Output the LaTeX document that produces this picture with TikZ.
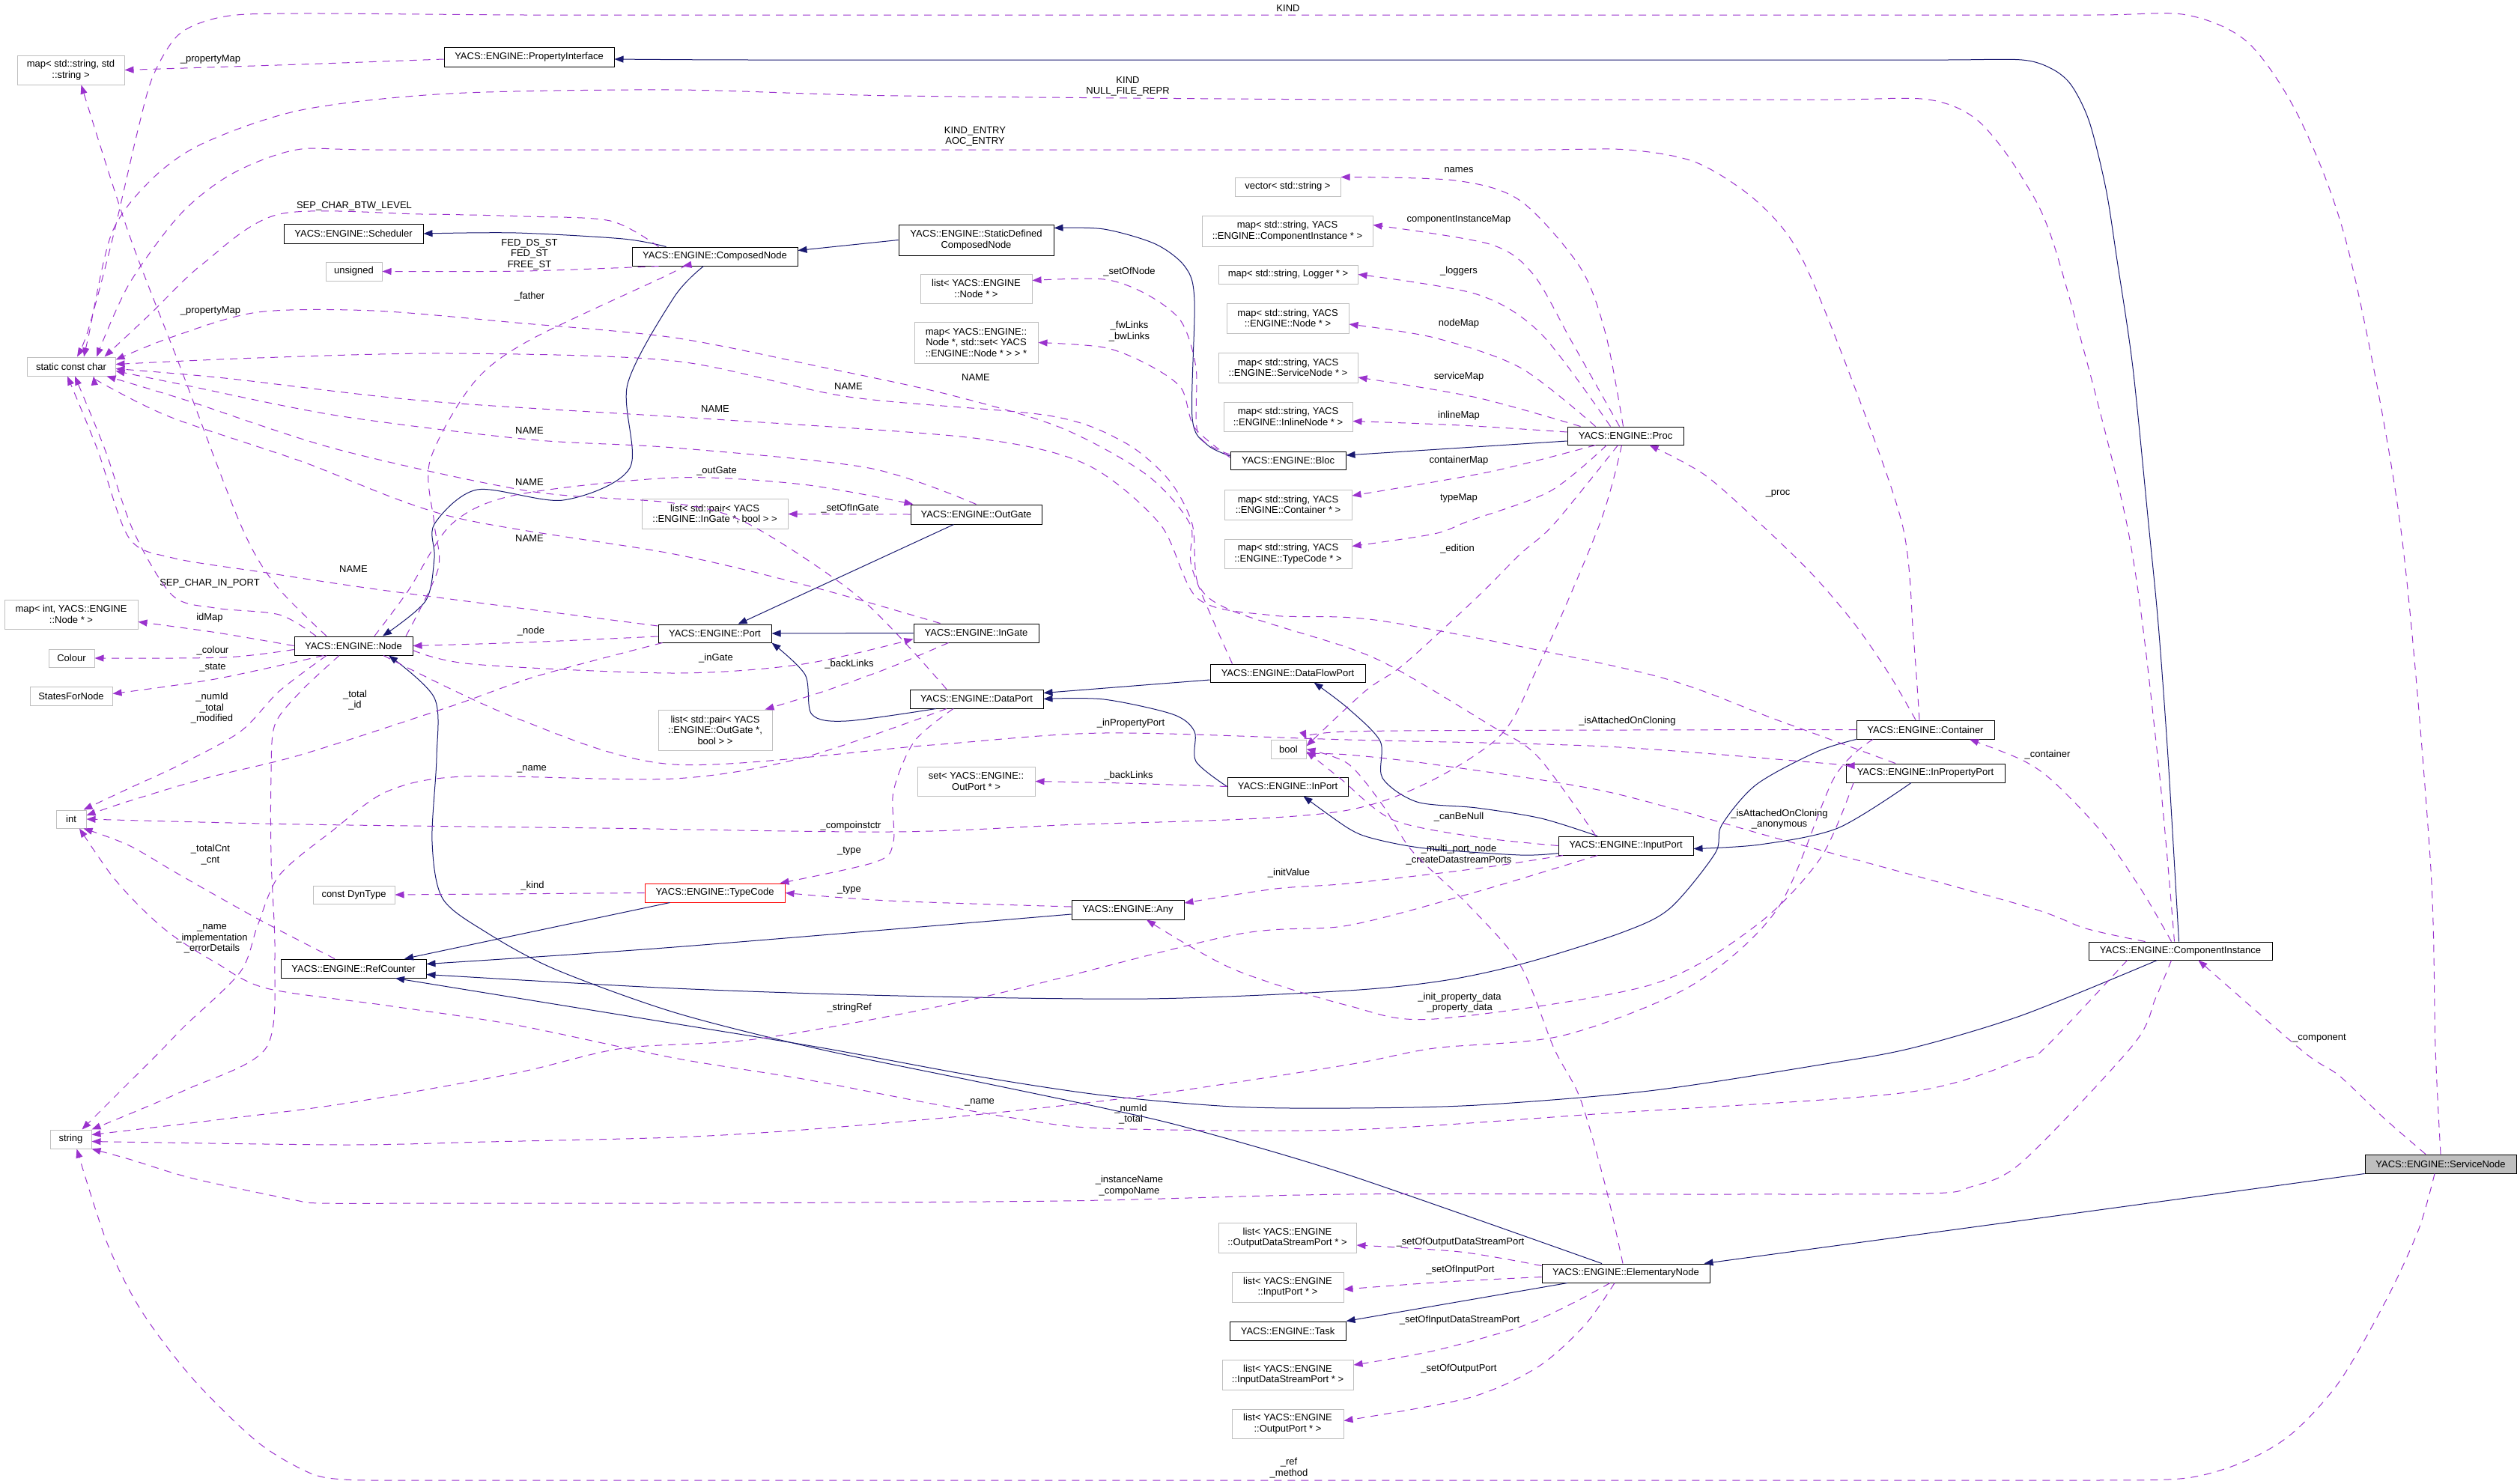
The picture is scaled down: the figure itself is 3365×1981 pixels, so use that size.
\documentclass[tikz,border=0pt]{standalone}
\usepackage{fontspec}
\setmainfont{Liberation Sans}
\usetikzlibrary{arrows.meta}
\definecolor{inhblue}{HTML}{191970}
\definecolor{usepurple}{HTML}{9A32CD}
\definecolor{extgray}{HTML}{BFBFBF}
\newcommand\fs{\fontsize{13}{14.5}\selectfont}
\newcommand\mybox[6]{\node[#1,minimum width=#4pt,minimum height=#5pt] (#2) at (#3) {#6};}
\newcommand\mylab[3]{\node[lbl] (#1) at (#2) {#3};}
\tikzset{
  cls/.style={draw=black, line width=1pt, fill=white, inner sep=0pt, align=center, font=\fs},
  ext/.style={draw=extgray, line width=1pt, fill=white, inner sep=0pt, align=center, font=\fs},
  redb/.style={draw=red, line width=1pt, fill=white, inner sep=0pt, align=center, font=\fs},
  svc/.style={draw=black, line width=1pt, fill=extgray, inner sep=0pt, align=center, font=\fs},
  lbl/.style={inner sep=0pt, align=center, font=\fs},
  inh/.style={draw=inhblue, line width=1pt, -{Triangle[length=12pt,width=9pt]}},
  use/.style={draw=usepurple, line width=1pt, dash pattern=on 10pt off 8pt, -{Triangle[length=12pt,width=9pt]}},
}
\begin{document}
\begin{tikzpicture}[x=1pt,y=-1pt]
\useasboundingbox (0,0) rectangle (3365,1981);
% ---------- boxes ----------
\mybox{ext}{mapSS}{94.5,93.5}{143}{39}{map< std::string, std\\::string >}
\mybox{cls}{PI}{706.5,76}{227}{26}{YACS::ENGINE::PropertyInterface}
\mybox{ext}{scc}{95,489.5}{118}{25}{static const char}
\mybox{cls}{Sched}{472,312}{186}{26}{YACS::ENGINE::Scheduler}
\mybox{ext}{uns}{472.5,362.5}{75}{25}{unsigned}
\mybox{cls}{CN}{954.5,342.5}{221}{25}{YACS::ENGINE::ComposedNode}
\mybox{ext}{vecS}{1719.5,249.5}{141}{25}{vector< std::string >}
\mybox{ext}{mapCI}{1719,308.5}{228}{41}{map< std::string, YACS\\::ENGINE::ComponentInstance * >}
\mybox{cls}{SDCN}{1303.5,320.5}{207}{41}{YACS::ENGINE::StaticDefined\\ComposedNode}
\mybox{ext}{listNode}{1303.5,385.5}{149}{39}{list< YACS::ENGINE\\::Node * >}
\mybox{ext}{mapFw}{1303.5,457.5}{165}{55}{map< YACS::ENGINE::\\Node *, std::set< YACS\\::ENGINE::Node * > > *}
\mybox{ext}{mapLog}{1720,366.5}{186}{25}{map< std::string, Logger * >}
\mybox{ext}{mapNode}{1719.5,425}{163}{40}{map< std::string, YACS\\::ENGINE::Node * >}
\mybox{ext}{mapSvc}{1720,491}{186}{40}{map< std::string, YACS\\::ENGINE::ServiceNode * >}
\mybox{ext}{mapInl}{1720,556.5}{172}{39}{map< std::string, YACS\\::ENGINE::InlineNode * >}
\mybox{cls}{Bloc}{1720,615}{154}{24}{YACS::ENGINE::Bloc}
\mybox{ext}{mapCont}{1720,674}{170}{40}{map< std::string, YACS\\::ENGINE::Container * >}
\mybox{ext}{mapTC}{1720,739.5}{170}{39}{map< std::string, YACS\\::ENGINE::TypeCode * >}
\mybox{cls}{Proc}{2170.5,582}{155}{24}{YACS::ENGINE::Proc}
\mybox{cls}{OutGate}{1303.5,687}{175}{26}{YACS::ENGINE::OutGate}
\mybox{ext}{listIG}{954.5,686.5}{195}{40}{list< std::pair< YACS\\::ENGINE::InGate *, bool > >}
\mybox{ext}{mapInt}{95,820.5}{178}{39}{map< int, YACS::ENGINE\\::Node * >}
\mybox{cls}{Node}{472,862.5}{158}{25}{YACS::ENGINE::Node}
\mybox{ext}{Colour}{95.5,879}{61}{24}{Colour}
\mybox{ext}{SFN}{95,929.5}{110}{25}{StatesForNode}
\mybox{ext}{int}{95,1094}{40}{24}{int}
\mybox{ext}{Dyn}{472.5,1195}{109}{24}{const DynType}
\mybox{redb}{TC}{954.5,1192.5}{187}{25}{YACS::ENGINE::TypeCode}
\mybox{cls}{RC}{472,1293.5}{194}{25}{YACS::ENGINE::RefCounter}
\mybox{cls}{Port}{954.5,846}{151}{24}{YACS::ENGINE::Port}
\mybox{cls}{InGate}{1303.5,845.5}{167}{25}{YACS::ENGINE::InGate}
\mybox{ext}{listOG}{955,975}{152}{54}{list< std::pair< YACS\\::ENGINE::OutGate *,\\bool > >}
\mybox{cls}{DataPort}{1304,933.5}{178}{25}{YACS::ENGINE::DataPort}
\mybox{cls}{DFP}{1719.5,899}{207}{24}{YACS::ENGINE::DataFlowPort}
\mybox{ext}{bool}{1720.5,1000.5}{47}{25}{bool}
\mybox{ext}{setOP}{1303.5,1043.5}{157}{39}{set< YACS::ENGINE::\\OutPort * >}
\mybox{cls}{InPort}{1719.5,1050.5}{161}{25}{YACS::ENGINE::InPort}
\mybox{cls}{Any}{1506,1215}{150}{26}{YACS::ENGINE::Any}
\mybox{cls}{Cont}{2571,974.5}{184}{25}{YACS::ENGINE::Container}
\mybox{cls}{IPP}{2571,1032.5}{212}{25}{YACS::ENGINE::InPropertyPort}
\mybox{cls}{InputPort}{2171,1129.5}{180}{25}{YACS::ENGINE::InputPort}
\mybox{cls}{CI}{2911.5,1270}{245}{24}{YACS::ENGINE::ComponentInstance}
\mybox{ext}{str}{94.5,1521.5}{55}{25}{string}
\mybox{ext}{lODSP}{1719,1653}{184}{40}{list< YACS::ENGINE\\::OutputDataStreamPort * >}
\mybox{ext}{lIP}{1719.5,1719}{149}{40}{list< YACS::ENGINE\\::InputPort * >}
\mybox{cls}{Task}{1719.5,1777.5}{155}{25}{YACS::ENGINE::Task}
\mybox{ext}{lIDSP}{1719.5,1836}{175}{40}{list< YACS::ENGINE\\::InputDataStreamPort * >}
\mybox{ext}{lOP}{1719.5,1901.5}{149}{39}{list< YACS::ENGINE\\::OutputPort * >}
\mybox{cls}{EN}{2171,1700.5}{224}{25}{YACS::ENGINE::ElementaryNode}
\mybox{svc}{SN}{3259,1554.5}{202}{25}{YACS::ENGINE::ServiceNode}
% ---------- labels ----------
\mylab{a1}{1720,11}{KIND}
\mylab{a2}{1506,115.5}{KIND\\NULL\_FILE\_REPR}
\mylab{a3}{1302,182.5}{KIND\_ENTRY\\AOC\_ENTRY}
\mylab{a4}{281,79}{\_propertyMap}
\mylab{a5}{473,275}{SEP\_CHAR\_BTW\_LEVEL}
\mylab{a6}{707,339.5}{FED\_DS\_ST\\FED\_ST\\FREE\_ST}
\mylab{a7}{707,396}{\_father}
\mylab{a8}{281,415}{\_propertyMap}
\mylab{a9}{707,575}{NAME}
\mylab{a10}{707,644}{NAME}
\mylab{a11}{1948,227}{names}
\mylab{a12}{1948,293}{componentInstanceMap}
\mylab{a13}{1948,362}{\_loggers}
\mylab{a14}{1948,432}{nodeMap}
\mylab{a15}{1948,503}{serviceMap}
\mylab{a16}{1948,555}{inlineMap}
\mylab{a17}{1948,615}{containerMap}
\mylab{a18}{1948,665}{typeMap}
\mylab{a19}{2374,659}{\_proc}
\mylab{a20}{1508,363}{\_setOfNode}
\mylab{a21}{1508,442.5}{\_fwLinks\\\_bwLinks}
\mylab{a22}{1303,504}{NAME}
\mylab{a23}{1133,516}{NAME}
\mylab{a24}{955,546}{NAME}
\mylab{a25}{957,629}{\_outGate}
\mylab{a26}{1135,679}{\_setOfInGate}
\mylab{a27}{707,719}{NAME}
\mylab{a28}{472,760}{NAME}
\mylab{a29}{280,779}{SEP\_CHAR\_IN\_PORT}
\mylab{a30}{280,825}{idMap}
\mylab{a31}{709,843}{\_node}
\mylab{a32}{284,869}{\_colour}
\mylab{a33}{284,892}{\_state}
\mylab{a34}{283,946}{\_numId\\\_total\\\_modified}
\mylab{a35}{474,935}{\_total\\\_id}
\mylab{a36}{710,1027}{\_name}
\mylab{a37}{281,1141.5}{\_totalCnt\\\_cnt}
\mylab{a38}{711,1183}{\_kind}
\mylab{a39}{283,1254}{\_name\\\_implementation\\\_errorDetails}
\mylab{a40}{956,879}{\_inGate}
\mylab{a41}{1134,887}{\_backLinks}
\mylab{a42}{1510,966}{\_inPropertyPort}
\mylab{a43}{1507,1036}{\_backLinks}
\mylab{a44}{1136,1103}{\_compoinstctr}
\mylab{a45}{1134,1137}{\_type}
\mylab{a46}{1134,1189}{\_type}
\mylab{a47}{1721,1166}{\_initValue}
\mylab{a48}{1134,1346}{\_stringRef}
\mylab{a49}{1946,733}{\_edition}
\mylab{a50}{2173,963}{\_isAttachedOnCloning}
\mylab{a51}{2376,1094}{\_isAttachedOnCloning\\\_anonymous}
\mylab{a52}{1948,1091}{\_canBeNull}
\mylab{a53}{1948,1141.5}{\_multi\_port\_node\\\_createDatastreamPorts}
\mylab{a54}{1949,1339}{\_init\_property\_data\\\_property\_data}
\mylab{a55}{2734,1008}{\_container}
\mylab{a56}{3097,1387}{\_component}
\mylab{a57}{1308,1472}{\_name}
\mylab{a58}{1510,1488}{\_numId\\\_total}
\mylab{a59}{1508,1583.5}{\_instanceName\\\_compoName}
\mylab{a60}{1950,1659}{\_setOfOutputDataStreamPort}
\mylab{a61}{1950,1696}{\_setOfInputPort}
\mylab{a62}{1949,1763}{\_setOfInputDataStreamPort}
\mylab{a63}{1948,1828}{\_setOfOutputPort}
\mylab{a64}{1721,1960.5}{\_ref\\\_method}
% ---------- inheritance (solid) ----------
\draw[inh] plot[smooth] coordinates {([xshift=-2pt]CI.north) (2895,1012) (2882,834) (2869,700) (2848,491) (2827,348) (2812,252) (2790,163) (2766,114) (2740,92) (2700,80) (2600,80) (2400,80) (2000,80) (1500,80) (1000,80) ([yshift=-3pt]PI.east)};
\draw[inh] plot[smooth] coordinates {([xshift=-65pt]CN.north) (832,319) (689,311) (Sched.east)};
\draw[inh] (SDCN.west) -- ([yshift=8pt]CN.east);
\draw[inh] plot[smooth] coordinates {([yshift=6pt]Bloc.west) (1612,594) (1592,558) (1595,402) (1583,357) (1543,326) (1474,306) ([yshift=16pt]SDCN.east)};
\draw[inh] ([yshift=-7pt]Proc.west) -- ([yshift=7pt]Bloc.east);
\draw[inh] plot[smooth] coordinates {([xshift=-15pt]CN.south) (900,397) (838,513) (841,625) (752,668) (637,654) (580,700) (580,745) (568,803) ([xshift=39pt]Node.north)};
\draw[inh] plot[smooth] coordinates {([xshift=-32pt]EN.north) (1800,1569) (1589,1507) (1474,1480) (1302,1444) (1089,1400) (900,1352) (740,1294) (649,1245) (591,1200) (577,1124) (583,1012) (580,932) ([xshift=47pt]Node.south)};
\draw[inh] ([xshift=-78pt]EN.south) -- (Task.north east);
\draw[inh] plot[smooth] coordinates {(SN.south west) (2700,1630) ([xshift=-8pt]EN.north east)};
\draw[inh] ([xshift=-30pt]OutGate.south) -- ([xshift=31pt]Port.north);
\draw[inh] (InGate.west) -- (Port.east);
\draw[inh] plot[smooth] coordinates {([xshift=-54pt]DataPort.south) (1130,963) (1084,954) (1075,901) (Port.south east)};
\draw[inh] ([yshift=-9pt]DFP.west) -- ([yshift=8pt]DataPort.east);
\draw[inh] plot[smooth] coordinates {(InPort.west) (1597,1017) (1595,977) (1566,954) (1474,934) (DataPort.east)};
\draw[inh] plot[smooth] coordinates {([xshift=-38pt]InputPort.north) (2058,1093) (1972,1079) (1892,1071) (1846,1039) (1843,990) (1800,946) ([xshift=35pt]DFP.south)};
\draw[inh] plot[smooth] coordinates {([yshift=-10pt]InputPort.west) (2030,1142) (1903,1133) (1834,1120) (1800,1106) ([xshift=21pt]InPort.south)};
\draw[inh] plot[smooth] coordinates {([xshift=-19pt]IPP.south) (2454,1106) (2350,1128) ([yshift=-4pt]InputPort.east)};
\draw[inh] ([xshift=-60pt]TC.south) -- ([xshift=68pt]RC.north);
\draw[inh] plot[smooth] coordinates {([yshift=-6pt]Any.west) (900,1265) ([yshift=6pt]RC.east)};
\draw[inh] plot[smooth] coordinates {(Cont.south west) (2426,1004) (2345,1048) (2299,1102) (2290,1140) (2230,1213) (2167,1245) (2041,1285) (1932,1309) (1800,1323) (1531,1334) (1200,1330) (900,1320) ([yshift=-8pt]RC.east)};
\draw[inh] plot[smooth] coordinates {([xshift=-31pt]CI.south) (2700,1356) (2552,1400) (2431,1422) (2202,1457) (1972,1476) (1800,1480) (1646,1478) (1474,1463) (1302,1437) (1101,1400) (900,1367) ([xshift=56pt]RC.south)};
% ---------- usage (dashed) ----------
\draw[use] plot[smooth] coordinates {(SN.north) (3252,1400) (3245,1146) (3205,700) (3137,339) (3073,163) (3003,58) (2920,20) (2800,20) (2500,20) (2000,20) (1500,20) (1000,20) (700,20) (400,18) (300,22) (240,45) (205,100) (185,170) (150,320) (118,440) ([xshift=8pt]scc.north)};
\draw[use] plot[smooth] coordinates {([xshift=-8pt]CI.north) (2880,1000) (2840,700) (2747,341) (2700,237) (2641,161) (2575,133) (2450,133) (2200,133) (1800,133) (1200,128) (900,120) (600,125) (402,147) (270,192) (201,241) (149,312) (118,450) ([xshift=17pt]scc.north)};
\draw[use] plot[smooth] coordinates {([xshift=-8pt]Cont.north) (2555,850) (2540,700) (2470,500) (2403,339) (2345,268) (2265,217) (2173,200) (2050,200) (1700,200) (1300,200) (900,200) (500,200) (396,200) (310,232) (241,286) (172,380) ([xshift=34pt]scc.north)};
\draw[use] plot[smooth] coordinates {([xshift=-75pt]CN.north) (815,295) (700,289) (563,286) (373,286) (270,353) (200,420) ([xshift=-15pt]scc.north east)};
\draw[use] plot[smooth] coordinates {([xshift=-75pt]CN.south) (700,362) (uns.east)};
\draw[use] plot[smooth] coordinates {([yshift=-3pt]PI.west) (400,86) (mapSS.east)};
\draw[use] plot[smooth] coordinates {([xshift=-36pt]Node.north) (367,780) (321,700) (241,491) (172,312) ([xshift=14pt]mapSS.south)};
\draw[use] plot[smooth] coordinates {([xshift=70pt]Node.north) (585,760) (580,700) (574,616) (631,513) (706,455) (890,368) ([xshift=-43pt]CN.south)};
\draw[use] plot[smooth] coordinates {([xshift=-50pt]Node.north) (373,821) (287,812) (230,795) (178,709) (140,600) ([xshift=5pt]scc.south)};
\draw[use] plot[smooth] coordinates {(Node.west) (290,845) ([yshift=-10pt]mapInt.east)};
\draw[use] plot[smooth] coordinates {([yshift=-5pt]Node.west) (300,878) (Colour.east)};
\draw[use] plot[smooth] coordinates {([xshift=-40pt]Node.south) (287,907) ([yshift=3pt]SFN.east)};
\draw[use] plot[smooth] coordinates {([xshift=-36pt]Node.south) (373,923) (321,977) (241,1021) (172,1053) ([xshift=-4pt]int.north east)};
\draw[use] plot[smooth] coordinates {([yshift=-4pt]Port.west) (700,858) (Node.east)};
\draw[use] plot[smooth] coordinates {([xshift=-70pt]Port.south) (717,903) (603,943) (402,1008) (276,1039) (172,1070) ([yshift=5pt]int.east)};
\draw[use] plot[smooth] coordinates {([yshift=-6pt]Node.east) (631,887) (900,899) (1072,887) ([yshift=-8pt]InGate.west)};
\draw[use] plot[smooth] coordinates {([xshift=28pt]Node.north) (545,789) (603,700) (689,661) (900,638) (1072,647) ([xshift=4pt]OutGate.north west)};
\draw[use] plot[smooth] coordinates {([xshift=40pt]Node.south) (689,959) (900,1021) (1244,995) (1474,979) (1800,988) (2144,997) (2431,1019) ([yshift=10pt]IPP.west)};
\draw[use] plot[smooth] coordinates {(Cont.west) (2173,975) (1800,977) (bool.north east)};
\draw[use] plot[smooth] coordinates {([xshift=-47pt]CI.north) (2785,1240) (2700,1209) (2374,1120) (2144,1057) (1915,1021) (1800,1008) ([yshift=-6pt]bool.east)};
\draw[use] plot[smooth] coordinates {(InputPort.west) (1972,1118) (1860,1095) (1790,1040) ([yshift=-3pt]bool.east)};
\draw[use] plot[smooth] coordinates {([xshift=-10pt]Proc.south) (2075,700) (2030,740) (1972,798) (1875,887) (1823,923) ([yshift=4pt]bool.east)};
\draw[use] plot[smooth] coordinates {([xshift=-4pt]EN.north) (2144,1585) (2110,1467) (2075,1400) (2030,1289) (1961,1209) (1886,1137) (1846,1075) (1800,1020) (bool.east)};
\draw[use] plot[smooth] coordinates {([xshift=-5pt]Proc.south) (2136,700) (2053,892) (1989,995) (1800,1082) (1416,1102) (1187,1111) (800,1106) (402,1101) (int.east)};
\draw[use] plot[smooth] coordinates {([xshift=-25pt]RC.north) (344,1227) (241,1169) (172,1129) ([xshift=-4pt]int.south east)};
\draw[use] plot[smooth] coordinates {([xshift=-71pt]CI.south) (2730,1400) (2700,1415) (2546,1459) (2144,1487) (1800,1509) (1474,1507) (1359,1494) (1244,1474) (1072,1441) (900,1413) (689,1369) (517,1343) (356,1320) (287,1285) (230,1249) (189,1213) (149,1169) ([xshift=11pt]int.south)};
\draw[use] plot[smooth] coordinates {([xshift=-12pt]CI.south) (2878,1334) (2848,1396) (2700,1552) (2632,1585) (2575,1594) (2300,1595) (1800,1595) (1416,1604) (900,1607) (600,1607) (430,1607) (390,1602) (258,1574) (172,1548) (str.south east)};
\draw[use] plot[smooth] coordinates {([xshift=-8pt]SN.south) (3230,1641) (3188,1733) (3124,1845) (3060,1915) (2997,1952) (2920,1974) (2800,1977) (2500,1977) (2000,1977) (1500,1977) (1000,1977) (700,1977) (540,1977) (459,1976) (413,1967) (344,1926) (258,1842) (189,1751) (143,1660) ([xshift=8pt]str.south)};
\draw[use] plot[smooth] coordinates {([xshift=-20pt]SN.north) (3183,1493) (3124,1437) (3075,1404) ([xshift=24pt]CI.south)};
\draw[use] plot[smooth] coordinates {([xshift=-12pt]CI.north) (2861,1191) (2806,1111) (2742,1044) (2700,1015) ([xshift=59pt]Cont.south)};
\draw[use] plot[smooth] coordinates {([xshift=-13pt]Cont.north) (2523,901) (2477,834) (2420,767) (2351,700) (2276,634) ([xshift=32pt]Proc.south)};
\draw[use] plot[smooth] coordinates {([xshift=-3pt]Proc.north) (2144,446) (2110,357) (2030,268) (1943,241) (vecS.north east)};
\draw[use] plot[smooth] coordinates {([xshift=-8pt]Proc.north) (2098,455) (2047,366) (1989,326) ([yshift=8pt]mapCI.east)};
\draw[use] plot[smooth] coordinates {([xshift=-20pt]Proc.north) (2058,446) (1972,393) (mapLog.east)};
\draw[use] plot[smooth] coordinates {([xshift=-40pt]Proc.north) (2030,491) (1915,451) ([yshift=-8pt]mapNode.east)};
\draw[use] plot[smooth] coordinates {([xshift=-60pt]Proc.north) (1972,531) ([yshift=-13pt]mapSvc.east)};
\draw[use] plot[smooth] coordinates {([yshift=5pt]Proc.west) (1950,568) ([yshift=-6pt]mapInl.east)};
\draw[use] plot[smooth] coordinates {([xshift=-40pt]Proc.south) (1990,630) ([yshift=12pt]mapCont.east)};
\draw[use] plot[smooth] coordinates {([xshift=-25pt]Proc.south) (2070,656) (1961,696) (1915,713) ([yshift=10pt]mapTC.east)};
\draw[use] plot[smooth] coordinates {([yshift=8pt]Bloc.west) (1600,580) (1597,491) (1577,429) (1531,393) (1474,373) ([yshift=11pt]listNode.east)};
\draw[use] plot[smooth] coordinates {([yshift=4pt]Bloc.west) (1595,571) (1577,518) (1531,486) (1474,464) (mapFw.east)};
\draw[use] (OutGate.west) -- (listIG.east);
\draw[use] plot[smooth] coordinates {([xshift=-37pt]InGate.south) (1187,892) (1101,923) ([xshift=-10pt]listOG.north east)};
\draw[use] plot[smooth] coordinates {(InPort.west) (1500,1046) (setOP.east)};
\draw[use] plot[smooth] coordinates {([xshift=-31pt]DataPort.south) (1221,990) (1193,1057) (1193,1124) (1170,1151) ([xshift=-7pt]TC.north east)};
\draw[use] plot[smooth] coordinates {([yshift=4pt]Any.west) (1187,1203) (TC.east)};
\draw[use] (TC.west) -- (Dyn.east);
\draw[use] plot[smooth] coordinates {([xshift=-84pt]InputPort.south) (1972,1160) (1800,1180) (1703,1187) ([yshift=9pt]Any.east)};
\draw[use] plot[smooth] coordinates {([xshift=-96pt]IPP.south) (2431,1146) (2345,1236) (2202,1316) (1915,1361) (1800,1343) (1646,1294) ([xshift=25pt]Any.south)};
\draw[use] plot[smooth] coordinates {([xshift=-38pt]InputPort.south) (1972,1191) (1800,1236) (1646,1249) (1302,1334) (1015,1387) (832,1400) (689,1433) (459,1474) (287,1496) ([yshift=6pt]str.east)};
\draw[use] plot[smooth] coordinates {([xshift=-40pt]DataPort.south) (1072,1012) (900,1040) (620,1037) (517,1057) (442,1111) (373,1169) (344,1236) (321,1298) (247,1370) (218,1400) (166,1452) ([xshift=15pt]str.north)};
\draw[use] plot[smooth] coordinates {([xshift=-19pt]Node.south) (402,923) (367,968) (362,1035) (362,1146) (367,1280) (355,1400) (247,1456) (str.north east)};
\draw[use] plot[smooth] coordinates {([xshift=-70pt]Cont.south) (2449,1039) (2374,1213) (2259,1316) (2087,1383) (1915,1400) (1800,1422) (1531,1463) (1302,1489) (1072,1509) (900,1519) (650,1525) (459,1529) ([yshift=-3pt]str.east)};
% NAME edges to static const char
\draw[use] plot[smooth] coordinates {([yshift=10pt]Port.west) (517,789) (356,765) (230,745) (172,718) (130,600) ([xshift=-5pt]scc.south)};
\draw[use] plot[smooth] coordinates {([xshift=-48pt]InGate.north) (1089,785) (900,740) (603,690) (402,616) (230,558) (140,514) ([xshift=30pt]scc.south)};
\draw[use] plot[smooth] coordinates {(OutGate.north) (1160,625) (900,598) (707,587) (450,555) (250,515) ([yshift=-6pt]scc.east)};
\draw[use] plot[smooth] coordinates {([xshift=-40pt]DataPort.north) (1150,800) (1000,700) (900,672) (707,656) (450,600) (250,535) ([xshift=-12pt]scc.south east)};
\draw[use] plot[smooth] coordinates {([xshift=-74pt]DFP.north) (1592,760) (1589,700) (1531,634) (1416,571) (1267,527) (1101,491) (900,451) (689,431) (499,415) (344,417) (230,450) ([yshift=9pt]scc.east)};
\draw[use] plot[smooth] coordinates {([xshift=-40pt]InputPort.north) (2053,1010) (1989,968) (1869,896) (1800,865) (1646,816) (1600,780) (1592,700) (1560,640) (1500,590) (1400,555) (1133,530) (900,482) (600,472) (344,478) ([yshift=3pt]scc.east)};
\draw[use] plot[smooth] coordinates {([xshift=-40pt]IPP.north) (2374,962) (2200,900) (1850,830) (1700,822) (1600,800) (1549,700) (1450,620) (1300,585) (955,560) (574,536) (300,505) ([yshift=-3pt]scc.east)};
% ElementaryNode lists
\draw[use] plot[smooth] coordinates {([yshift=10pt]EN.west) (1950,1672) ([yshift=-10pt]lODSP.east)};
\draw[use] plot[smooth] coordinates {([yshift=-5pt]EN.west) (1930,1712) ([yshift=-3pt]lIP.east)};
\draw[use] plot[smooth] coordinates {([xshift=-21pt]EN.south) (2099,1741) (2030,1772) (1915,1804) ([yshift=13pt]lIDSP.east)};
\draw[use] plot[smooth] coordinates {([xshift=-15pt]EN.south) (2116,1770) (2053,1826) (1961,1867) ([yshift=4pt]lOP.east)};
\end{tikzpicture}
\end{document}
